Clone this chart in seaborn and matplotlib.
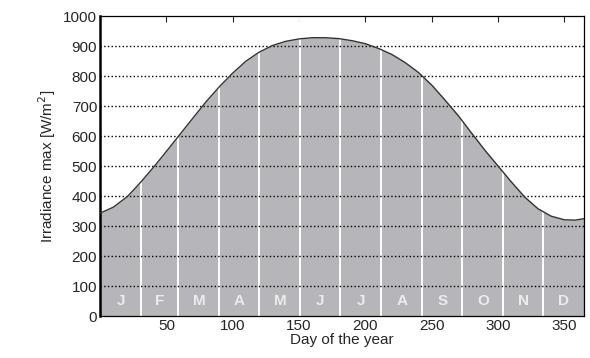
import numpy as np
import pandas as pd
import matplotlib
matplotlib.use("Agg")
import matplotlib.pyplot as plt
import seaborn as sns

sns.set_style("white")
plt.rcParams["font.family"] = ["Liberation Sans", "DejaVu Sans"]

# === Data ===
day = [0, 10, 21, 31, 42, 52, 61, 70, 80, 90, 100, 110, 120, 130, 140, 150,
       160, 170, 180, 190, 200, 210, 220, 230, 240, 250, 260, 270, 280, 290,
       300, 310, 320, 330, 340, 350, 358, 365]
irradiance = [343, 363, 400, 448, 505, 560, 610, 660, 715, 765, 810, 850, 880,
              902, 916, 924, 928, 928, 925, 918, 908, 892, 872, 845, 812, 770,
              720, 668, 610, 553, 500, 447, 397, 358, 333, 321, 320, 325]
month_edges = [31, 59, 90, 120, 151, 181, 212, 243, 273, 304, 334]
month_letters = ["J", "F", "M", "A", "M", "J", "J", "A", "S", "O", "N", "D"]
grid_levels = [100, 200, 300, 400, 500, 600, 700, 800, 900]

df = pd.DataFrame({"day": day, "irr": irradiance})

fig = plt.figure(figsize=(5.9, 3.58), dpi=100)
ax = fig.add_axes([0.1695, 0.117, 0.821, 0.838])

# === Filled area under the curve ===
ax.fill_between(df["day"], 0, df["irr"], color="#b5b5ba", lw=0, zorder=1)

# month boundaries
for d in month_edges:
    ax.axvline(d, color="white", lw=1.4, zorder=2)

# month letters
starts = [0] + month_edges
ends = month_edges + [365]
for s, e, m in zip(starts, ends, month_letters):
    ax.text((s + e) / 2, 50, m, color="#ececec", fontsize=11, fontweight="bold",
            ha="center", va="center", zorder=3)

# dotted grid
for g in grid_levels:
    ax.axhline(g, color="black", lw=1.0, ls=":", zorder=4)

sns.lineplot(data=df, x="day", y="irr", color="#333333", lw=1.0, ax=ax, zorder=5)

ax.set_xlim(0, 365)
ax.set_ylim(0, 1000)
ax.set_xticks([50, 100, 150, 200, 250, 300, 350])
ax.set_yticks(range(0, 1001, 100))
ax.tick_params(axis="x", direction="in", top=True, length=4, labelsize=11, pad=2)
ax.tick_params(axis="y", direction="in", right=True, length=0, labelsize=11, pad=2)
for sp in ax.spines.values():
    sp.set_color("black")
    sp.set_linewidth(0.9)
ax.spines["left"].set_linewidth(1.8)

ax.set_xlabel("Day of the year", fontsize=11, labelpad=0)
ax.set_ylabel("Irradiance max [W/m$^2$]", fontsize=11, labelpad=4)

fig.savefig("out.png", dpi=100)
